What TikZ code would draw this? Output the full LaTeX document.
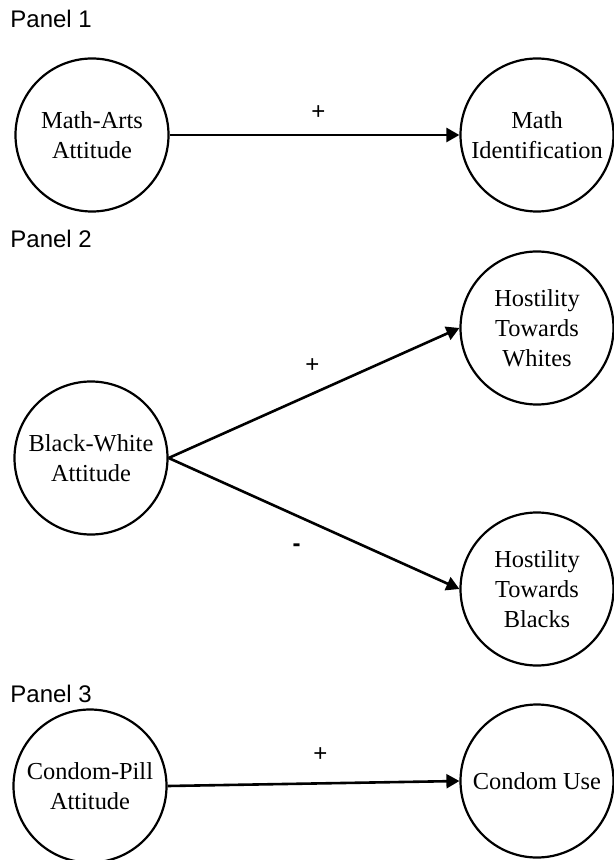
\documentclass[tikz,border=0pt]{standalone}
\usepackage{fontspec}
\setmainfont{Liberation Serif}
\newfontfamily\panelfont{Liberation Sans}
\usetikzlibrary{arrows.meta}

\begin{document}
\begin{tikzpicture}[x = 0.5pt, y = -0.5pt]
  \tikzset{>={Triangle[length=6.5pt, width=7pt]},
    construct/.style = {draw, circle, line width = 1.1pt, minimum size = 76.5pt, inner sep = 0pt, align = center, font = \fontsize{12.2}{15}\selectfont},
    panel/.style = {anchor = base west, inner sep = 0pt, font = \panelfont\fontsize{12}{14}\selectfont},
    sign/.style = {inner sep = 0pt, font = \panelfont\fontsize{12}{14}\selectfont},
    path/.style = {->, line width = 1.3pt}}

  \useasboundingbox (0,0) rectangle (614,860);

  % Panel 1
  \node[panel] (p1) at (10,28) {Panel 1};
  \node[construct] (mathArts) at (92,135) {Math-Arts\\Attitude};
  \node[construct] (mathId) at (537,135) {Math\\Identification};
  \draw[path] (mathArts.east) -- (mathId.west) node[sign, midway, xshift = 2pt, yshift = 11pt] {+};

  % Panel 2
  \node[panel] (p2) at (10,248) {Panel 2};
  \node[construct] (blackWhite) at (91,458) {Black-White\\Attitude};
  \node[construct] (hostWhites) at (537,328) {Hostility\\Towards\\Whites};
  \node[construct] (hostBlacks) at (537,589) {Hostility\\Towards\\Blacks};
  \draw[path] (blackWhite.east) -- (hostWhites.west) node[sign, midway, xshift = -0.75pt, yshift = 13.5pt] {+};
  \draw[path] (blackWhite.east) -- (hostBlacks.west) node[sign, midway, xshift = -8.75pt, yshift = -12pt] {\bfseries -};

  % Panel 3
  \node[panel] (p3) at (10,702) {Panel 3};
  \node[construct] (condomPill) at (90,786) {Condom-Pill\\Attitude};
  \node[construct] (condomUse) at (537,781) {Condom Use};
  \draw[path] (condomPill.east) -- (condomUse.west) node[sign, midway, xshift = 3.5pt, yshift = 14.5pt] {+};
\end{tikzpicture}
\end{document}
